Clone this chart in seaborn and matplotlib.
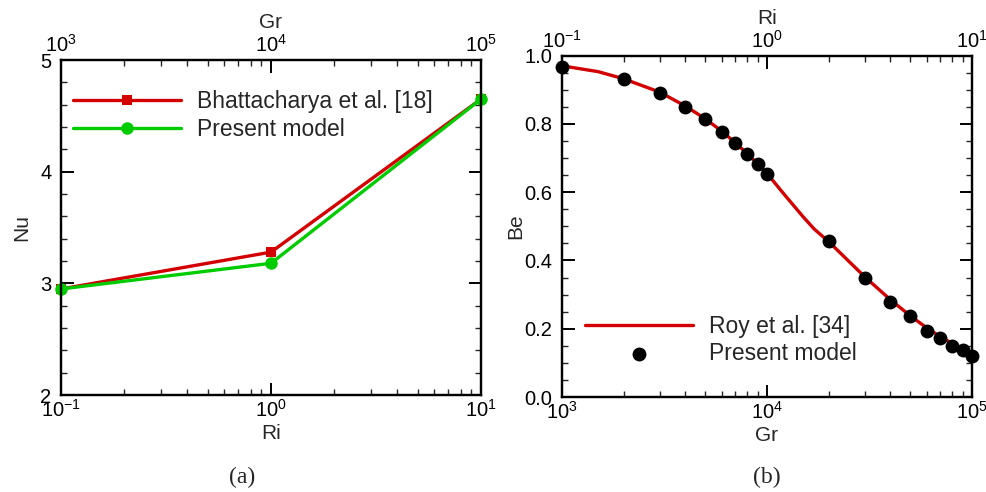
import numpy as np
import pandas as pd
import matplotlib
matplotlib.use("Agg")
import matplotlib.pyplot as plt
from matplotlib.ticker import LogLocator, NullFormatter, MultipleLocator, FormatStrFormatter
import seaborn as sns

# Panel (a): Nusselt number vs Richardson number
ri_a = [0.1, 1.0, 10.0]
nu_bhattacharya = [2.95, 3.28, 4.65]
nu_present = [2.95, 3.18, 4.65]

# Panel (b): Bejan number vs Grashof number
gr_roy = [1000, 1500, 2000, 3000, 4000, 5000, 6000, 7000, 8000, 9000, 10000,
          12000, 15000, 17000, 20000, 30000, 40000, 50000, 60000, 70000, 80000, 90000, 100000]
be_roy = [0.970, 0.953, 0.932, 0.893, 0.852, 0.815, 0.779, 0.745, 0.713, 0.683, 0.655,
          0.597, 0.528, 0.492, 0.455, 0.352, 0.285, 0.238, 0.203, 0.177, 0.157, 0.140, 0.126]
gr_present = [1000, 2000, 3000, 4000, 5000, 6000, 7000, 8000, 9000, 10000,
              20000, 30000, 40000, 50000, 60000, 70000, 80000, 90000, 100000]
be_present = [0.968, 0.930, 0.891, 0.849, 0.815, 0.777, 0.743, 0.712, 0.682, 0.654,
              0.458, 0.350, 0.278, 0.236, 0.193, 0.172, 0.150, 0.138, 0.120]

sns.set_style("ticks")
plt.rcParams["font.family"] = ["Liberation Sans", "DejaVu Sans"]
plt.rcParams["mathtext.default"] = "regular"
plt.rcParams["axes.unicode_minus"] = False
plt.rcParams["axes.linewidth"] = 1.6

TICK_FS = 14.5
LABEL_FS = 15
LEGEND_FS = 16.5
CAPTION_FS = 17
RED = "#d40000"
GREEN = "#00cc00"

fig = plt.figure(figsize=(9.87, 4.92), dpi=100)
ax_a = fig.add_axes([0.0618, 0.197, 0.4255, 0.681])
ax_b = fig.add_axes([0.5694, 0.193, 0.4154, 0.694])


def style_log_axis(axis_obj):
    axis_obj.set_major_locator(LogLocator(base=10, numticks=10))
    axis_obj.set_minor_locator(LogLocator(base=10, subs=np.arange(2, 10), numticks=10))
    axis_obj.set_minor_formatter(NullFormatter())


def style_ticks(ax):
    ax.tick_params(which="major", direction="in", length=9, width=1.4,
                   labelsize=TICK_FS, colors="black")
    ax.tick_params(which="minor", direction="in", length=4.5, width=1.0)
    ax.tick_params(axis="x", which="major", pad=3)
    ax.tick_params(axis="y", which="major", pad=7)


legend_kw = dict(frameon=False, fontsize=LEGEND_FS, handlelength=4.7,
                 handletextpad=0.7, labelspacing=0.2, borderpad=0,
                 borderaxespad=0, loc="upper left")

# ---- (a) ----
df_b = pd.DataFrame({"Ri": ri_a, "Nu": nu_bhattacharya})
df_p = pd.DataFrame({"Ri": ri_a, "Nu": nu_present})
sns.lineplot(data=df_b, x="Ri", y="Nu", ax=ax_a, color=RED, lw=2.4, marker="s",
             markersize=7, markeredgewidth=0, label="Bhattacharya et al. [18]", clip_on=False)
sns.lineplot(data=df_p, x="Ri", y="Nu", ax=ax_a, color=GREEN, lw=2.4, marker="o",
             markersize=9, markeredgewidth=0, label="Present model", clip_on=False)
ax_a.set_xscale("log")
ax_a.set_xlim(0.1, 10)
ax_a.set_ylim(2, 5)
style_log_axis(ax_a.xaxis)
ax_a.yaxis.set_major_locator(MultipleLocator(1))
ax_a.yaxis.set_minor_locator(MultipleLocator(0.2))
ax_a.yaxis.set_major_formatter(FormatStrFormatter("%d"))
style_ticks(ax_a)
ax_a.tick_params(which="both", right=True, top=False)
ax_a.set_xlabel("Ri", fontsize=LABEL_FS, labelpad=2)
ax_a.set_ylabel("Nu", fontsize=LABEL_FS, labelpad=6)
ax_a.legend(bbox_to_anchor=(0.074, 0.817), bbox_transform=fig.transFigure, **legend_kw)

top_a = ax_a.twiny()
top_a.set_xscale("log")
top_a.set_xlim(1e3, 1e5)
style_log_axis(top_a.xaxis)
style_ticks(top_a)
top_a.tick_params(axis="x", which="major", pad=3)
top_a.set_xlabel("Gr", fontsize=LABEL_FS, labelpad=4)

# ---- (b) ----
df_roy = pd.DataFrame({"Gr": gr_roy, "Be": be_roy})
df_pres = pd.DataFrame({"Gr": gr_present, "Be": be_present})
sns.lineplot(data=df_roy, x="Gr", y="Be", ax=ax_b, color=RED, lw=2.4,
             label="Roy et al. [34]")
sns.scatterplot(data=df_pres, x="Gr", y="Be", ax=ax_b, color="black", s=100,
                linewidth=0, label="Present model", zorder=3, clip_on=False)
ax_b.set_xscale("log")
ax_b.set_xlim(1e3, 1e5)
ax_b.set_ylim(0, 1)
style_log_axis(ax_b.xaxis)
ax_b.yaxis.set_major_locator(MultipleLocator(0.2))
ax_b.yaxis.set_minor_locator(MultipleLocator(0.05))
ax_b.yaxis.set_major_formatter(FormatStrFormatter("%.1f"))
style_ticks(ax_b)
ax_b.tick_params(which="both", right=True, top=False)
ax_b.set_xlabel("Gr", fontsize=LABEL_FS, labelpad=2)
ax_b.set_ylabel("Be", fontsize=LABEL_FS, labelpad=-1)
ax_b.legend(bbox_to_anchor=(0.5927, 0.360), bbox_transform=fig.transFigure, **legend_kw)

top_b = ax_b.twiny()
top_b.set_xscale("log")
top_b.set_xlim(0.1, 10)
style_log_axis(top_b.xaxis)
style_ticks(top_b)
top_b.tick_params(axis="x", which="major", pad=3)
top_b.set_xlabel("Ri", fontsize=LABEL_FS, labelpad=4)

for ax in (ax_a, ax_b, top_a, top_b):
    for sp in ax.spines.values():
        sp.set_linewidth(1.6)
        sp.set_color("black")

fig.text(0.245, 0.03, "(a)", fontsize=CAPTION_FS, family="Liberation Serif",
         ha="center", va="center")
fig.text(0.777, 0.03, "(b)", fontsize=CAPTION_FS, family="Liberation Serif",
         ha="center", va="center")

fig.savefig("out.png", dpi=100, facecolor="white")
